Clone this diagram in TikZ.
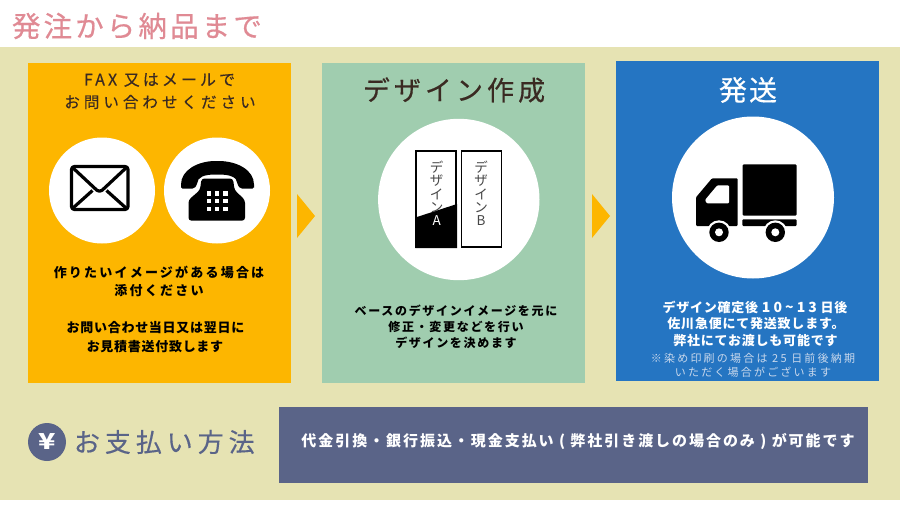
\documentclass[tikz,border=0pt]{standalone}
\usepackage{fontspec}
\setmainfont{Noto Sans CJK JP}
\newcommand{\fs}[2]{\fontsize{#1}{#1}\selectfont\addfontfeature{LetterSpace=#2}}
\newcommand{\fb}[3]{\fontsize{#1}{#1}\selectfont\addfontfeature{LetterSpace=#2,FakeBold=#3}}
\definecolor{band}{HTML}{E6E3B3}
\definecolor{orangebox}{HTML}{FDB600}
\definecolor{greenbox}{HTML}{A0CDAF}
\definecolor{bluebox}{HTML}{2575C2}
\definecolor{slate}{HTML}{5A6488}
\definecolor{pinktitle}{HTML}{E08A94}
\definecolor{inkdark}{HTML}{3A2A22}
\definecolor{notelight}{HTML}{C9D8EC}
\tikzset{
  x=1pt,y=-1pt,
  txt/.style={inner sep=0pt,outer sep=0pt,anchor=center,align=center},
  whitedisc/.style={fill=white,draw=none},
  bodybold/.style={txt,font=\fs{13}{17}\bfseries,text=black},
  bodytight/.style={txt,font=\fs{13}{5.5}\bfseries,text=black},
  bluebold/.style={txt,font=\fs{13}{6}\bfseries,text=white},
  bluenote/.style={txt,font=\fs{11}{20},text=notelight},
  docbox/.style={draw=black,line width=1.6pt,fill=white},
  doctext/.style={txt,font=\fontsize{13.5}{13.4}\selectfont,text=black!72},
  mailline/.style={black,line width=3.2pt,line join=round},
}
\begin{document}
\begin{tikzpicture}
\useasboundingbox (0,0) rectangle (900,506);
\fill[white] (0,0) rectangle (900,506);
\fill[band] (0,47) rectangle (900,500);
\node[txt,anchor=west,font=\fb{28.5}{11}{0.5},text=pinktitle] (title) at (12,26) {発注から納品まで};
% panels
\fill[orangebox] (28,63) rectangle (291,383);
\fill[greenbox] (321.5,63) rectangle (585,383);
\fill[bluebox] (615.5,61) rectangle (879,381);
% arrows
\fill[orangebox] (297,194) -- (315,216) -- (297,238) -- cycle;
\fill[orangebox] (592,194) -- (610,216) -- (592,238) -- cycle;
% orange panel
\node[txt,font=\fb{16}{19}{0.3},text=inkdark] (t1a) at (159.5,80) {FAX 又はメールで};
\node[txt,font=\fb{15.5}{26}{0.3},text=inkdark] (t1b) at (160,102) {お問い合わせください};
\fill[whitedisc] (102,190.5) circle (53);
\fill[whitedisc] (217,190.5) circle (53);
% mail icon
\draw[mailline,rounded corners=3pt] (71.5,166.5) rectangle (128,209.5);
\draw[mailline] (72,167) -- (95,188.5) .. controls (98,192) and (101,192) .. (104,188.5) -- (127,167);
\draw[mailline] (73,208) -- (92.5,190.5);
\draw[mailline] (126,208) -- (106.5,190.5);
% phone icon
\fill[black,rounded corners=1.5pt] (181,186) .. controls (181,170) and (198,161) .. (217,161) .. controls (237,161) and (254,170) .. (254,186) -- (254,188.5) -- (240.5,188.5) -- (237.5,185) .. controls (237,177) and (230,174.5) .. (217,174.5) .. controls (204,174.5) and (197.5,177) .. (197,185) -- (194,188.5) -- (181,188.5) -- cycle;
\fill[black,rounded corners=3pt] (201.5,178.5) -- (233,178.5) -- (234.5,190) -- (245,200) -- (245,220.7) -- (188.5,220.7) -- (188.5,200) -- (200,190) -- cycle;
\foreach \cx in {209,217,225.5}{
  \foreach \cy in {193.5,201,209}{ \fill[white] (\cx-2.2,\cy-2.2) rectangle (\cx+2.2,\cy+2.2); }
}
\node[bodybold] (t1c) at (159,272) {作りたいイメージがある場合は};
\node[bodybold] (t1d) at (159,291) {添付ください};
\node[bodytight] (t1e) at (155.5,328) {お問い合わせ当日又は翌日に};
\node[bodytight] (t1f) at (155,347) {お見積書送付致します};
% green panel
\node[txt,font=\fb{27}{15}{0.5},text=inkdark] (t2a) at (454,90) {デザイン作成};
\fill[whitedisc] (458.8,199.5) circle (80.7);
\draw[docbox] (416.2,151.2) rectangle (456.2,247.2);
\draw[docbox] (461.5,151.2) rectangle (501.5,247.2);
\fill[black] (415.4,217.5) -- (457,204) -- (457,248) -- (415.4,248) -- cycle;
\node[doctext] (docA) at (436.7,193.3) {デ\\ザ\\イ\\ン\\\textcolor{white}{A}};
\node[doctext] (docB) at (481,193.3) {デ\\ザ\\イ\\ン\\B};
\node[txt,font=\fs{12}{14}\bfseries] (t2b) at (456,311) {ベースのデザインイメージを元に};
\node[txt,font=\fs{12}{14}\bfseries] (t2c) at (456,327) {修正・変更などを行い};
\node[txt,font=\fs{12}{14}\bfseries] (t2d) at (456,343) {デザインを決めます};
% blue panel
\node[txt,font=\fb{28}{8}{0.3},text=white] (t3a) at (748,90) {発送};
\fill[whitedisc] (753,197.5) circle (81);
% truck
\fill[black,rounded corners=1.2pt] (742.7,164.3) rectangle (796.7,215.7);
\fill[black,rounded corners=1pt] (696,197.3) -- (712,178.3) -- (737.7,178.3) -- (737.7,226) -- (696,226) -- cycle;
\fill[white,rounded corners=1pt] (705,200) -- (717.3,185.3) -- (729,185.3) -- (729,203.3) -- (706.7,203.3) -- cycle;
\fill[black,rounded corners=1pt] (742.3,219.3) rectangle (796.7,226);
\fill[white] (719,232.3) circle (12);
\fill[white] (775.3,232.3) circle (12);
\fill[black] (719,232.3) circle (9.7);
\fill[white] (719,232.3) circle (4);
\fill[black] (775.3,232.3) circle (9.7);
\fill[white] (775.3,232.3) circle (4);
\node[bluebold] (t3b) at (755,307) {デザイン確定後 {\fs{14}{22}\bfseries 10\textasciitilde 13} 日後};
\node[bluebold] (t3c) at (756,324) {佐川急便にて発送致します。};
\node[bluebold] (t3d) at (755.5,341) {弊社にてお渡しも可能です};
\node[bluenote] (t3e) at (753,358) {※染め印刷の場合は 25 日前後納期};
\node[bluenote] (t3f) at (753,372) {いただく場合がございます};
% bottom
\fill[slate] (47,442) circle (19);
\node[txt,xscale=1.3,font=\fs{22}{0}\bfseries,text=white] (yen) at (47,442) {¥};
\node[txt,anchor=west,font=\fb{26}{19}{0.3},text=slate] (t4a) at (74,442) {お支払い方法};
\fill[slate] (279,407) rectangle (868,483);
\node[txt,font=\fs{15}{13}\bfseries,text=white] (t4b) at (578,441.7) {代金引換・銀行振込・現金支払い ( 弊社引き渡しの場合のみ ) が可能です};
\end{tikzpicture}
\end{document}
